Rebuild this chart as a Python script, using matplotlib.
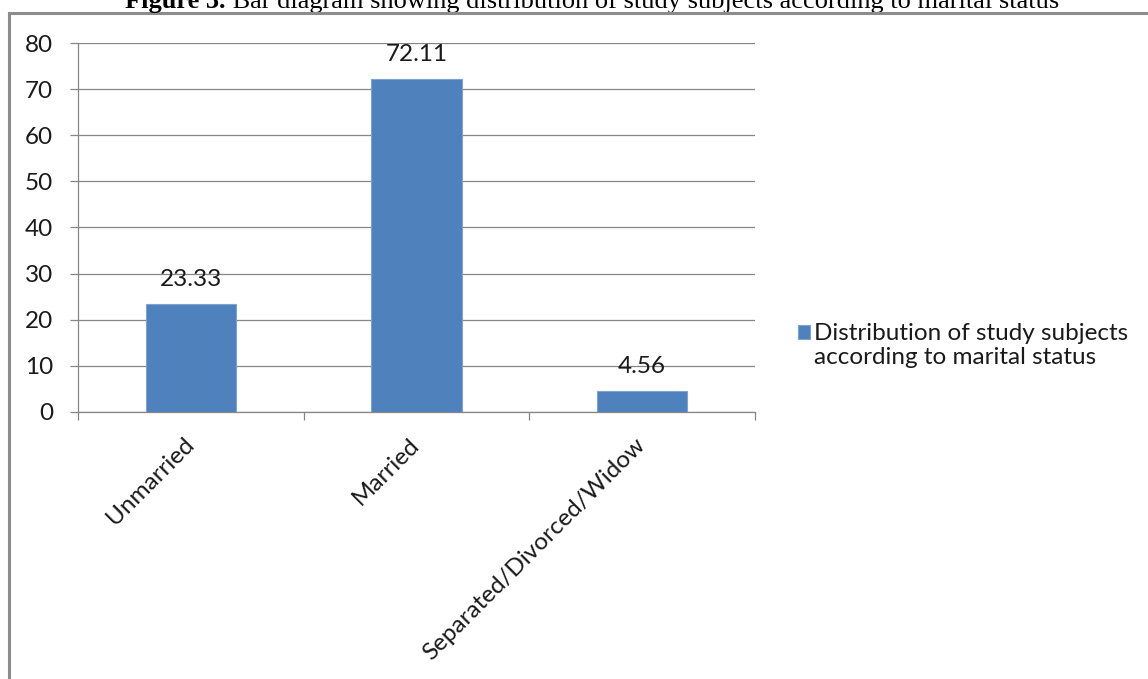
import matplotlib.pyplot as plt
from matplotlib.patches import Rectangle
from matplotlib.transforms import ScaledTranslation

plt.rcParams['font.family'] = ['Lato', 'DejaVu Sans']

# marital status breakdown (percent of study subjects)
categories = ["Unmarried", "Married", "Separated/Divorced/Widow"]
percent = [23.33, 72.11, 4.56]
yticks = [0, 10, 20, 30, 40, 50, 60, 70, 80]
series_line1 = "Distribution of study subjects"
series_line2 = "according to marital status"
title_bold = "Figure 3."
title_rest = " Bar diagram showing distribution of study subjects according to marital status"

W, H = 1148, 679
fs = 17.5
ink = '#1a1a1a'
fig = plt.figure(figsize=(W / 100, H / 100), dpi=100)
ax = fig.add_axes([78 / W, 1 - 412 / H, (755 - 78) / W, (412 - 43) / H])

grey = '#868686'
xpos = list(range(len(categories)))
bars = ax.bar(xpos, percent, width=0.4, color='#4F81BD', edgecolor='#7FA2D1',
              linewidth=0.8, zorder=3)

ax.set_xlim(-0.5, len(categories) - 0.5)
ax.set_ylim(0, 80)
ax.set_yticks(yticks)
ax.yaxis.grid(True, color=grey, linewidth=0.9)
ax.set_axisbelow(True)

for side in ['top', 'right']:
    ax.spines[side].set_visible(False)
for side in ['left', 'bottom']:
    ax.spines[side].set_color(grey)
    ax.spines[side].set_linewidth(0.9)

ax.tick_params(axis='y', length=6, width=0.9, color=grey, pad=12,
               labelsize=fs, labelcolor=ink)

# category labels sit at bar centres, tick marks sit between categories
ax.set_xticks(xpos)
ax.set_xticklabels(categories, rotation=45, ha='right')
ax.set_xticks([i - 0.5 for i in range(len(categories) + 1)], minor=True)
ax.tick_params(axis='x', which='major', length=0, pad=16, labelsize=fs,
               labelcolor=ink)
ax.tick_params(axis='x', which='minor', length=6, width=0.9, color=grey)
for lab in ax.get_xticklabels():
    lab.set_transform(lab.get_transform() + ScaledTranslation(0.07, 0, fig.dpi_scale_trans))

for i, v in enumerate(percent):
    ax.annotate(f"{v:.2f}", xy=(i, v), xytext=(0, 13), textcoords='offset points',
                ha='center', va='baseline', fontsize=fs, color=ink)

leg = ax.legend([bars], [series_line1], loc='center left',
                bbox_to_anchor=(798 / W, 1 - 334 / H), bbox_transform=fig.transFigure,
                frameon=False, fontsize=fs, handlelength=0.5, handleheight=0.5,
                handletextpad=0.15, borderpad=0, borderaxespad=0)
for t in leg.get_texts():
    t.set_color(ink)
# second legend line hangs under the first one, drawn after the legend
ax.annotate(series_line2, xy=(0, 0), xycoords=leg.get_texts()[0], xytext=(0, -2),
            textcoords='offset points', ha='left', va='top', fontsize=fs,
            color=ink, zorder=10)

# caption above the chart frame
t1 = fig.text(125 / W, 1 - 8 / H, title_bold, family=['Liberation Serif'],
              weight='bold', fontsize=19, va='baseline')
ax.annotate(title_rest, xy=(1, 0), xycoords=t1, ha='left', va='bottom',
            family=['Liberation Serif'], fontsize=19)

fig.add_artist(Rectangle((9 / W, -0.05), 1.1, 1 - 13 / H + 0.05,
                         transform=fig.transFigure, fill=False,
                         edgecolor='#8c8c8c', linewidth=2.2, clip_on=False))

fig.savefig('out.png', dpi=100)
